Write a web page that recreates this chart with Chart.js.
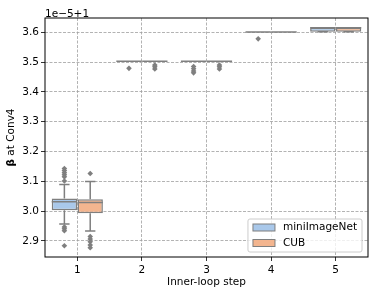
<!DOCTYPE html>
<html>
<head>
<meta charset="utf-8">
<script src="https://cdn.jsdelivr.net/npm/chart.js@4.4.1/dist/chart.umd.min.js"></script>
<style>html,body{margin:0;padding:0;background:#fff}</style>
</head>
<body>
<canvas id="chart" width="373" height="295"></canvas>
<script>
const steps = [1, 2, 3, 4, 5];
const yTicks = [2.9, 3.0, 3.1, 3.2, 3.3, 3.4, 3.5, 3.6];

// values in units of 1e-5, offset +1
const miniLo = [2.957, 3.503, 3.503, 3.601, 3.602];
const miniQ1 = [3.003, 3.503, 3.503, 3.601, 3.602];
const miniMed = [3.031, 3.503, 3.503, 3.601, 3.615];
const miniQ3 = [3.042, 3.503, 3.503, 3.601, 3.615];
const miniHi = [3.089, 3.503, 3.503, 3.601, 3.615];
const miniOut = [
  [3.143, 3.136, 3.129, 3.122, 3.115, 3.101, 2.947, 2.941, 2.934, 2.884],
  [3.479],
  [3.485, 3.478, 3.470, 3.464],
  [3.578],
  [],
];

const cubLo = [2.933, 3.503, 3.503, 3.601, 3.602];
const cubQ1 = [2.993, 3.503, 3.503, 3.601, 3.602];
const cubMed = [3.029, 3.503, 3.503, 3.601, 3.615];
const cubQ3 = [3.040, 3.503, 3.503, 3.601, 3.615];
const cubHi = [3.099, 3.503, 3.503, 3.601, 3.615];
const cubOut = [
  [3.126, 2.915, 2.906, 2.897, 2.886, 2.877],
  [3.490, 3.484, 3.477],
  [3.490, 3.484, 3.477],
  [],
  [],
];

const GRAY = '#7f7f7f';
const FONT = 'DejaVu Sans';

const hues = [
  { label: 'miniImageNet', color: '#a9c8ea', shift: -0.2, lo: miniLo, q1: miniQ1, med: miniMed, q3: miniQ3, hi: miniHi, out: miniOut },
  { label: 'CUB', color: '#f3b58f', shift: 0.2, lo: cubLo, q1: cubQ1, med: cubMed, q3: cubQ3, hi: cubHi, out: cubOut },
];

const datasets = [];
hues.forEach((h) => {
  datasets.push({
    type: 'bar',
    label: h.label,
    data: steps.map((s, i) => ({ x: s + h.shift, y: [h.q1[i], h.q3[i]] })),
    backgroundColor: h.color,
    borderColor: GRAY,
    borderWidth: 1.5,
    borderSkipped: false,
    grouped: false,
    categoryPercentage: 1,
    barPercentage: 0.98,
    order: 2,
  });

  const lines = [];
  steps.forEach((s, i) => {
    const c = s + h.shift;
    const gap = { x: c, y: null };
    lines.push({ x: c, y: h.q1[i] }, { x: c, y: h.lo[i] }, gap);
    lines.push({ x: c, y: h.q3[i] }, { x: c, y: h.hi[i] }, gap);
    lines.push({ x: c - 0.08, y: h.lo[i] }, { x: c + 0.08, y: h.lo[i] }, gap);
    lines.push({ x: c - 0.08, y: h.hi[i] }, { x: c + 0.08, y: h.hi[i] }, gap);
    lines.push({ x: c - 0.196, y: h.med[i] }, { x: c + 0.196, y: h.med[i] }, gap);
  });
  datasets.push({
    type: 'line',
    label: h.label + ' whiskers',
    data: lines,
    borderColor: GRAY,
    borderWidth: 1.5,
    pointRadius: 0,
    spanGaps: false,
    fill: false,
    order: 1,
  });

  const fliers = [];
  steps.forEach((s, i) => {
    h.out[i].forEach((v) => fliers.push({ x: s + h.shift, y: v }));
  });
  datasets.push({
    type: 'scatter',
    label: h.label + ' outliers',
    data: fliers,
    pointStyle: 'rectRot',
    pointRadius: 2.8,
    backgroundColor: GRAY,
    borderWidth: 0,
    order: 0,
  });
});

const decorations = {
  id: 'decorations',
  afterDraw(chart) {
    const { ctx, chartArea: a } = chart;
    ctx.save();
    ctx.strokeStyle = '#000';
    ctx.lineWidth = 1;
    ctx.strokeRect(a.left, a.top, a.right - a.left, a.bottom - a.top);

    ctx.fillStyle = '#000';
    ctx.font = `10.5px "${FONT}"`;
    ctx.textBaseline = 'alphabetic';
    ctx.fillText('1e\u22125+1', a.left, a.top - 1.5);

    // y label with bold beta
    const bold = `bold 10.5px "${FONT}"`;
    const norm = `10.5px "${FONT}"`;
    ctx.font = bold;
    const bw = ctx.measureText('\u03b2').width;
    ctx.font = norm;
    const rest = ' at Conv4';
    const rw = ctx.measureText(rest).width;
    ctx.save();
    ctx.translate(11, (a.top + a.bottom) / 2);
    ctx.rotate(-Math.PI / 2);
    ctx.textBaseline = 'middle';
    ctx.textAlign = 'left';
    const sx = -(bw + rw) / 2;
    ctx.font = bold;
    ctx.fillText('\u03b2', sx, 0);
    ctx.font = norm;
    ctx.fillText(rest, sx + bw, 0);
    ctx.restore();

    // legend
    ctx.font = norm;
    const textW = Math.max(...hues.map((h) => ctx.measureText(h.label).width));
    const w = 5 + 22 + 8 + textW + 5;
    const hgt = 33;
    const x = a.right - 6 - w;
    const y = a.bottom - 5 - hgt;
    ctx.beginPath();
    ctx.roundRect(x, y, w, hgt, 2);
    ctx.fillStyle = 'rgba(255,255,255,0.8)';
    ctx.fill();
    ctx.strokeStyle = '#cccccc';
    ctx.lineWidth = 1;
    ctx.stroke();
    hues.forEach((h, k) => {
      const cy = y + 8.5 + k * 15.5;
      ctx.fillStyle = h.color;
      ctx.fillRect(x + 5, cy - 3.5, 22, 7);
      ctx.strokeStyle = GRAY;
      ctx.lineWidth = 1;
      ctx.strokeRect(x + 5, cy - 3.5, 22, 7);
      ctx.fillStyle = '#000';
      ctx.textBaseline = 'middle';
      ctx.fillText(h.label, x + 35, cy);
    });
    ctx.restore();
  },
};

new Chart(document.getElementById('chart'), {
  type: 'bar',
  data: { datasets },
  options: {
    responsive: false,
    animation: false,
    events: [],
    layout: { padding: { top: 18, right: 5, left: 0, bottom: 0 } },
    plugins: { legend: { display: false }, tooltip: { enabled: false } },
    scales: {
      x: {
        type: 'linear',
        min: 0.5,
        max: 5.5,
        offset: false,
        afterBuildTicks: (s) => { s.ticks = steps.map((v) => ({ value: v })); },
        grid: {
          offset: false,
          color: '#a0a0a0',
          lineWidth: 0.8,
          tickColor: '#000',
          tickLength: 4,
          tickBorderDash: [],
        },
        border: { display: false, dash: [3, 1.5] },
        ticks: { color: '#000', font: { family: FONT, size: 10.5 }, padding: 3, maxRotation: 0, callback: (v) => String(v) },
        title: { display: true, text: 'Inner-loop step', color: '#000', font: { family: FONT, size: 10.5 }, padding: { top: 0, bottom: 6 } },
        afterFit: (s) => { s.height = 38; },
      },
      y: {
        type: 'linear',
        min: 2.846,
        max: 3.648,
        afterBuildTicks: (s) => { s.ticks = yTicks.map((v) => ({ value: v })); },
        grid: {
          color: '#a0a0a0',
          lineWidth: 0.8,
          tickColor: '#000',
          tickLength: 4,
          tickBorderDash: [],
        },
        border: { display: false, dash: [3, 1.5] },
        ticks: { color: '#000', font: { family: FONT, size: 10.5 }, padding: 2, callback: (v) => v.toFixed(1) },
        afterFit: (s) => { s.width = 45; },
      },
    },
  },
  plugins: [decorations],
});
</script>
</body>
</html>
